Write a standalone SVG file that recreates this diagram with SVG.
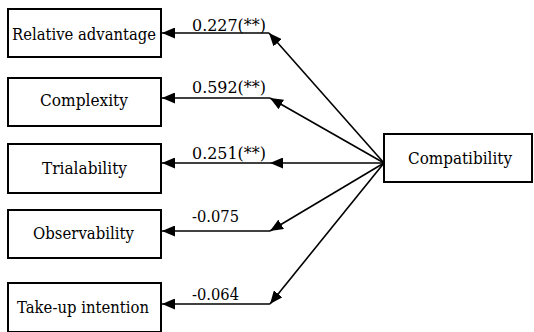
<svg xmlns="http://www.w3.org/2000/svg" width="534" height="332" viewBox="0 0 534 332">
<style>
.box{fill:#fff;stroke:#000;stroke-width:2}
text{font-family:'DejaVu Serif','Liberation Serif',serif;font-size:17.5px;fill:#000}
.c{text-anchor:middle}
.ln{fill:none;stroke:#000;stroke-width:1.6;marker-end:url(#ah)}
</style>
<defs>
<marker id="ah" viewBox="0 0 13 11" refX="13" refY="5.5" markerWidth="13" markerHeight="11" markerUnits="userSpaceOnUse" orient="auto">
<path d="M0,0 L13,5.5 L0,11 Z" fill="#000"/>
</marker>
</defs>
<rect width="534" height="332" fill="#fff"/>
<g id="connectors">
<path class="ln" d="M384,163 L269,33"/>
<path class="ln" d="M269,33 L162,33"/>
<path class="ln" d="M384,163 L270,98"/>
<path class="ln" d="M270,98 L162,98"/>
<path class="ln" d="M384,163 L270,163"/>
<path class="ln" d="M270,163 L162,163"/>
<path class="ln" d="M384,163 L270,231"/>
<path class="ln" d="M270,231 L162,231"/>
<path class="ln" d="M384,163 L270,304"/>
<path class="ln" d="M270,304 L162,304"/>
<text x="192" y="31" textLength="74" lengthAdjust="spacingAndGlyphs">0.227(**)</text>
<text x="192" y="93" textLength="74" lengthAdjust="spacingAndGlyphs">0.592(**)</text>
<text x="192" y="159" textLength="74" lengthAdjust="spacingAndGlyphs">0.251(**)</text>
<text x="192" y="222" textLength="47" lengthAdjust="spacingAndGlyphs">-0.075</text>
<text x="192" y="300" textLength="47" lengthAdjust="spacingAndGlyphs">-0.064</text>
</g>
<g id="relative-advantage">
<rect class="box" x="8" y="9" width="153" height="48"/>
<text x="12" y="39.5" textLength="144" lengthAdjust="spacingAndGlyphs">Relative advantage</text>
</g>
<g id="complexity">
<rect class="box" x="8" y="78" width="153" height="48"/>
<text x="40" y="106" textLength="88" lengthAdjust="spacingAndGlyphs">Complexity</text>
</g>
<g id="trialability">
<rect class="box" x="8" y="144" width="153" height="49"/>
<text x="42" y="174" textLength="85" lengthAdjust="spacingAndGlyphs">Trialability</text>
</g>
<g id="observability">
<rect class="box" x="8" y="210" width="153" height="48"/>
<text x="33" y="239" textLength="101" lengthAdjust="spacingAndGlyphs">Observability</text>
</g>
<g id="take-up-intention">
<rect class="box" x="8" y="283" width="153" height="49"/>
<text x="17" y="313" textLength="132" lengthAdjust="spacingAndGlyphs">Take-up intention</text>
</g>
<g id="compatibility">
<rect class="box" x="384" y="134" width="148" height="48"/>
<text x="408" y="164" textLength="104" lengthAdjust="spacingAndGlyphs">Compatibility</text>
</g>
</svg>
